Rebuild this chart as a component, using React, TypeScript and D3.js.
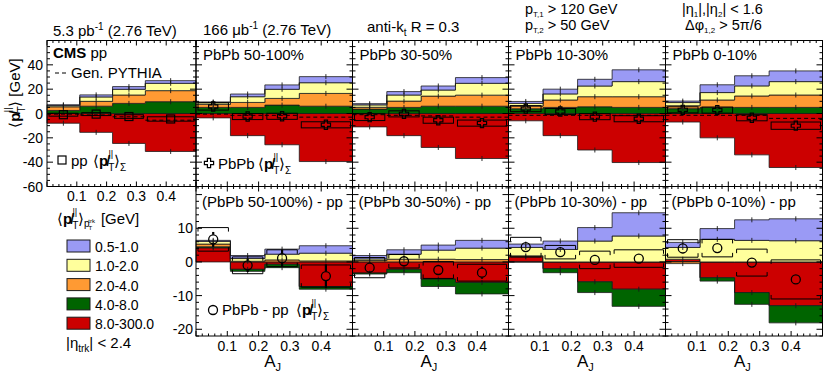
import React from "react";
import * as d3 from "d3";

// A_J bins shared by every panel
const binEdges = [0, 0.11, 0.22, 0.33, 0.5];
const ajTicks = [0.1, 0.2, 0.3, 0.4];
const topYTicks = [40, 20, 0, -20, -40, -60];
const diffYTicks = [10, 0, -10, -20];

const ptClasses = ["0.5-1.0", "1.0-2.0", "2.0-4.0", "4.0-8.0", "8.0-300.0"];
const legendKeys = ["blue", "yellow", "orange", "green", "red"];
const stackKeys = ["red", "green", "orange", "yellow", "blue"];
const colors: Record<string, string> = {
  blue: "#9a9af5",
  yellow: "#ffff9c",
  orange: "#ff9a33",
  green: "#006400",
  red: "#cc0000",
};

// top row: pp, PbPb 50-100%, 30-50%, 10-30%, 0-10%
const topTitles = ["pp", "PbPb 50-100%", "PbPb 30-50%", "PbPb 10-30%", "PbPb 0-10%"];
const topBlue = [[0.7, 1.7, 2.2, 2.2], [0.5, 2.2, 3.6, 5], [1, 2.8, 3.3, 4.7], [1.6, 3.9, 5.5, 9.7], [1.2, 6.4, 8.3, 8.8]];
const topYellow = [[1, 3.6, 4.7, 6], [1.5, 4.7, 7.5, 8.8], [2, 5, 5, 9.7], [2.2, 5, 8.8, 12.4], [2.6, 6.1, 8.3, 11]];
const topOrange = [[3, 4, 6.9, 9.1], [2.5, 4.1, 5.5, 10.5], [1.5, 5.2, 8.3, 9.1], [2.2, 6.1, 8.3, 8.8], [2.4, 6.1, 9.4, 10.2]];
const topGreen = [[2.5, 6, 8.3, 9.7], [5, 5, 6.9, 6], [3.6, 5, 6, 6], [3.9, 5, 5.5, 5], [4, 5, 5, 5]];
const topRed = [[-8, -15.5, -24.6, -31.2], [-3.6, -18.2, -25.7, -39.5], [-11, -18.2, -27.9, -37], [-6, -18.2, -30, -40.3], [-7, -20, -34, -44.4]];
const topSum = [[-1, -0.5, -2.5, -4.5], [5.8, -2.5, -2.3, -9.3], [-3, -0.3, -5.5, -7.9], [4, 1.6, -2.6, -4.3], [3, 2.8, -3.5, -10]];
const topStat = [[0.8, 0.8, 1, 1.2], [1.5, 1.2, 1.2, 1.5], [1.2, 1, 1, 1.2], [1, 1, 1, 1], [1, 1, 1, 1.2]];
const topSys = [[1.2, 1.2, 1.5, 1.8], [3, 2.5, 2.5, 2.5], [2.8, 2.5, 2.5, 2.5], [2.5, 2.5, 2.5, 2.5], [2.5, 2.5, 2.5, 3]];
const topGen = [[-0.5, -1.2, -2.7, -5.5], [-0.5, -1.5, -1.5, -3], [-1, -1.5, -2, -3], [-1.5, -1.5, -1.5, -1.5], [-1.5, -1.5, -1.5, -4]];

// bottom row: (PbPb - pp) for 50-100%, 30-50%, 10-30%, 0-10%
const diffTitles = ["(PbPb 50-100%) - pp", "(PbPb 30-50%) - pp", "(PbPb 10-30%) - pp", "(PbPb 0-10%) - pp"];
const diffBlue = [[0.3, 0.9, 1.5, 2.2], [1, 1.3, 1.5, 2.3], [1, 2.5, 4, 6.9], [1.5, 3.2, 6.1, 6.5]];
const diffYellow = [[0.8, 0.8, 1.7, 2.3], [0.5, 1.5, 2.7, 3.4], [2.5, 3.7, 6.2, 7.7], [3.5, 6.7, 6.4, 6.3]];
const diffOrange = [[0.8, 0.2, 0.6, 0.3], [0.4, 0.8, 0.8, 0.7], [0.3, 0, 0, 0], [-0.5, 0, 0, 0]];
const diffGreen = [[0.3, -0.6, -1, -0.8], [-0.3, -1, -2.2, -3.4], [0, -1.2, -3.2, -5.1], [0, -1, -3.5, -5.1]];
const diffRed = [[4.2, -2.2, -0.7, -7.3], [-3.3, -2.2, -5.1, -6.1], [1.5, -2, -5.9, -8.1], [0.8, -4.7, -9.1, -13]];
const diffSum = [[6.7, -1, 1.1, -4.2], [-1.7, 0.2, -2.4, -3.2], [4.4, 2.9, 0.6, 1], [4, 4.1, -0.2, -5.2]];
const diffStat = [[2.2, 2, 2.5, 3.5], [1.5, 1.5, 1.5, 1.8], [0.8, 0.8, 0.8, 0.8], [1.5, 0.8, 0.8, 1]];
const diffSys = [[3.5, 2.5, 2.5, 3.3], [3, 2, 2.5, 2.5], [2.9, 2, 2.6, 2.6], [2.6, 2.6, 4, 5.8]];

const FONT = "'Liberation Sans', Arial, Helvetica, sans-serif";
const PSLASH = "p\u0338";

const panelX = [[47, 196], [196, 352.5], [352.5, 508.5], [508.5, 665.5], [665.5, 822.5]];
const topY = d3.scaleLinear().domain([-60, 60]).range([186.5, 40.5]);
const diffY = d3.scaleLinear().domain([-22, 22.4]).range([336, 186.5]);

type Lin = d3.ScaleLinear<number, number>;

function Frame({ x, y, minor, major }: { x: Lin; y: Lin; minor: number; major: number }) {
  const [x0, x1] = x.range();
  const [yb, yt] = y.range();
  const [d0, d1] = y.domain();
  const xt = d3.range(0, 0.5001, 0.02);
  const yv = d3.range(Math.ceil(d0 / minor) * minor, d1 + 1e-9, minor);
  const isMaj = (v: number, s: number) => Math.abs(v / s - Math.round(v / s)) < 1e-6;
  return (
    <g stroke="#000" strokeWidth={1}>
      {xt.map((t, i) => {
        const l = isMaj(t, 0.1) ? 5 : 2.5;
        const px = x(t);
        return (
          <g key={"x" + i}>
            <line x1={px} x2={px} y1={yb} y2={yb - l} />
            <line x1={px} x2={px} y1={yt} y2={yt + l} />
          </g>
        );
      })}
      {yv.map((v, i) => {
        const l = isMaj(v, major) ? 6 : 3;
        const py = y(v);
        return (
          <g key={"y" + i}>
            <line x1={x0} x2={x0 + l} y1={py} y2={py} />
            <line x1={x1} x2={x1 - l} y1={py} y2={py} />
          </g>
        );
      })}
      <rect x={x0} y={yt} width={x1 - x0} height={yb - yt} fill="none" />
    </g>
  );
}

function Stack({ x, y, parts }: { x: Lin; y: Lin; parts: Record<string, number[]> }) {
  const rows = binEdges.slice(0, -1).map((_, i) => {
    const r: Record<string, number> = {};
    stackKeys.forEach((k) => (r[k] = parts[k][i]));
    return r;
  });
  const series = d3.stack<Record<string, number>>().keys(stackKeys).offset(d3.stackOffsetDiverging)(rows);
  const area = d3
    .area<{ x: number; y0: number; y1: number }>()
    .x((p) => x(p.x))
    .y0((p) => y(p.y0))
    .y1((p) => y(p.y1));
  return (
    <g>
      {series.map((s) => {
        const pts = s.flatMap((d, i) => [
          { x: binEdges[i], y0: d[0], y1: d[1] },
          { x: binEdges[i + 1], y0: d[0], y1: d[1] },
        ]);
        return <path key={s.key} d={area(pts) || ""} fill={colors[s.key]} stroke="#1a1a1a" strokeWidth={0.8} />;
      })}
      {series.map((s) =>
        s.map((d, i) => {
          const v = parts[s.key][i];
          if (Math.abs(v) < 0.05) return null;
          const edge = v >= 0 ? d[1] : d[0];
          const cx = x((binEdges[i] + binEdges[i + 1]) / 2);
          return <line key={s.key + i} x1={cx} x2={cx} y1={y(edge) - 2.5} y2={y(edge) + 2.5} stroke="#1a1a1a" strokeWidth={0.9} />;
        })
      )}
    </g>
  );
}

function Marker({ kind, cx, cy }: { kind: string; cx: number; cy: number }) {
  if (kind === "square") return <rect x={cx - 4} y={cy - 4} width={8} height={8} fill="none" stroke="#000" strokeWidth={1.2} />;
  if (kind === "cross")
    return (
      <path
        transform={`translate(${cx},${cy})`}
        d="M-1.6,-4.6H1.6V-1.6H4.6V1.6H1.6V4.6H-1.6V1.6H-4.6V-1.6H-1.6Z"
        fill="none"
        stroke="#000"
        strokeWidth={1.2}
      />
    );
  return <circle cx={cx} cy={cy} r={4.5} fill="none" stroke="#000" strokeWidth={1.3} />;
}

function Points({ x, y, vals, stat, sys, kind, bracket, thick }: { x: Lin; y: Lin; vals: number[]; stat: number[]; sys: number[]; kind: string; bracket: boolean; thick: number }) {
  return (
    <g>
      {vals.map((v, i) => {
        const lo = x(binEdges[i]) + 2;
        const hi = x(binEdges[i + 1]) - 2;
        const cx = x((binEdges[i] + binEdges[i + 1]) / 2);
        const yt = y(v + sys[i]);
        const yb = y(v - sys[i]);
        const cy = y(v);
        return (
          <g key={i} fill="none" stroke="#000">
            {bracket ? (
              <g strokeWidth={1}>
                <path d={`M${lo},${yt + 4}V${yt}H${hi}V${yt + 4}`} />
                <path d={`M${lo},${yb - 4}V${yb}H${hi}V${yb - 4}`} />
              </g>
            ) : (
              <rect x={lo} y={yt} width={hi - lo} height={yb - yt} strokeWidth={1} />
            )}
            {y(v + stat[i]) < cy - 4.6 && <line x1={cx} x2={cx} y1={y(v + stat[i])} y2={cy - 4.6} strokeWidth={thick} />}
            {y(v - stat[i]) > cy + 4.6 && <line x1={cx} x2={cx} y1={cy + 4.6} y2={y(v - stat[i])} strokeWidth={thick} />}
            <Marker kind={kind} cx={cx} cy={cy} />
          </g>
        );
      })}
    </g>
  );
}

function PtMiss({ x, y, fs, sub, anchor }: { x: number; y: number; fs: number; sub?: React.ReactNode; anchor?: string }) {
  return (
    <text x={x} y={y} fontSize={fs} textAnchor={anchor || "start"}>
      <tspan>⟨</tspan>
      <tspan fontWeight="bold">{PSLASH}</tspan>
      <tspan fontSize={fs * 0.68} dy={fs * 0.32}>T</tspan>
      <tspan fontSize={fs * 0.62} dx={-fs * 0.4} dy={-fs * 0.9}>||</tspan>
      <tspan dx={fs * 0.05} dy={fs * 0.58}>⟩</tspan>
      {sub}
    </text>
  );
}

export default function App() {
  const xs = panelX.map((r) => d3.scaleLinear().domain([0, 0.5]).range(r));
  return (
    <svg width={830} height={374} style={{ position: "absolute", left: 0, top: 0, background: "#fff" }} fontFamily={FONT}>
      <rect width={830} height={374} fill="#fff" />
      {/* top row */}
      {topTitles.map((t, i) => {
        const x = xs[i];
        return (
          <g key={"top" + i}>
            <Stack x={x} y={topY} parts={{ blue: topBlue[i], yellow: topYellow[i], orange: topOrange[i], green: topGreen[i], red: topRed[i] }} />
            {topGen[i].map((g, j) => (
              <line key={j} x1={x(binEdges[j])} x2={x(binEdges[j + 1])} y1={topY(g)} y2={topY(g)} stroke="#000" strokeWidth={1} strokeDasharray="4,3" />
            ))}
            <Points x={x} y={topY} vals={topSum[i]} stat={topStat[i]} sys={topSys[i]} kind={i === 0 ? "square" : "cross"} bracket={false} thick={1.2} />
            <Frame x={x} y={topY} minor={5} major={20} />
            {i > 0 && (
              <text x={x(0) + 7} y={60} fontSize={15}>
                {t}
              </text>
            )}
          </g>
        );
      })}
      {/* bottom row */}
      {diffTitles.map((t, k) => {
        const x = xs[k + 1];
        return (
          <g key={"bot" + k}>
            <Stack x={x} y={diffY} parts={{ blue: diffBlue[k], yellow: diffYellow[k], orange: diffOrange[k], green: diffGreen[k], red: diffRed[k] }} />
            <Points x={x} y={diffY} vals={diffSum[k]} stat={diffStat[k]} sys={diffSys[k]} kind="circle" bracket={true} thick={2.2} />
            <Frame x={x} y={diffY} minor={2} major={10} />
            <text x={x(0) + 6} y={207} fontSize={15}>
              {t}
            </text>
            {ajTicks.map((v) => (
              <text key={v} x={x(v)} y={351} fontSize={14} textAnchor="middle">
                {v.toFixed(1)}
              </text>
            ))}
            <text x={x(0.245)} y={367} fontSize={17} textAnchor="middle">
              A<tspan fontSize={11} dy={4}>J</tspan>
            </text>
          </g>
        );
      })}
      {/* axis labels */}
      {topYTicks.map((v) => (
        <text key={v} x={43} y={topY(v) + 5} fontSize={14} textAnchor="end">
          {v}
        </text>
      ))}
      {diffYTicks.map((v) => (
        <text key={v} x={193} y={diffY(v) + 5} fontSize={14} textAnchor="end">
          {v}
        </text>
      ))}
      {ajTicks.map((v) => (
        <text key={v} x={xs[0](v)} y={201} fontSize={14} textAnchor="middle">
          {v.toFixed(1)}
        </text>
      ))}
      <g transform="translate(20,93) rotate(-90)">
        <PtMiss x={0} y={0} fs={15} anchor="middle" sub={<tspan dx={4}>[GeV]</tspan>} />
      </g>
      {/* pp panel texts */}
      <text x={53} y={58} fontSize={15}>
        <tspan fontWeight="bold">CMS</tspan> pp
      </text>
      <line x1={55} x2={68} y1={73} y2={73} stroke="#000" strokeDasharray="4,3" />
      <text x={71} y={78} fontSize={15}>Gen. PYTHIA</text>
      <Marker kind="square" cx={62} cy={160} />
      <text x={71} y={166} fontSize={15}>pp </text>
      <PtMiss x={93} y={166} fs={15} sub={<tspan fontSize={10} dy={4.5}>Σ</tspan>} />
      <Marker kind="cross" cx={209} cy={163} />
      <text x={218} y={169} fontSize={15}>PbPb </text>
      <PtMiss x={258} y={169} fs={15} sub={<tspan fontSize={10} dy={4.5}>Σ</tspan>} />
      <Marker kind="circle" cx={213} cy={310} />
      <text x={222} y={315} fontSize={15}>PbPb - pp</text>
      <PtMiss x={296} y={315} fs={15} sub={<tspan fontSize={10} dy={4.5}>Σ</tspan>} />
      {/* header */}
      <text x={53} y={36} fontSize={15}>
        5.3 pb<tspan fontSize={10} dy={-6}>-1</tspan>
        <tspan dy={6}> (2.76 TeV)</tspan>
      </text>
      <text x={203} y={35} fontSize={15}>
        166 μb<tspan fontSize={10} dy={-6}>-1</tspan>
        <tspan dy={6}> (2.76 TeV)</tspan>
      </text>
      <text x={367} y={32} fontSize={15}>
        anti-k<tspan fontSize={10} dy={4}>t</tspan>
        <tspan dy={-4}> R = 0.3</tspan>
      </text>
      <text x={525} y={14} fontSize={14.5}>
        p<tspan fontSize={8} dy={2.5}>T,1</tspan>
        <tspan dy={-2.5}> &gt; 120 GeV</tspan>
      </text>
      <text x={525} y={30} fontSize={14.5}>
        p<tspan fontSize={8} dy={2.5}>T,2</tspan>
        <tspan dy={-2.5}> &gt; 50 GeV</tspan>
      </text>
      <text x={682} y={14} fontSize={14.5}>
        |η<tspan fontSize={8} dy={2.5}>1</tspan>
        <tspan dy={-2.5}>|,|η</tspan>
        <tspan fontSize={8} dy={2.5}>2</tspan>
        <tspan dy={-2.5}>| &lt; 1.6</tspan>
      </text>
      <text x={685} y={30} fontSize={14.5}>
        Δφ<tspan fontSize={8} dy={2.5}>1,2</tspan>
        <tspan dy={-2.5}> &gt; 5π/6</tspan>
      </text>
      {/* legend */}
      <PtMiss
        x={57}
        y={224}
        fs={15}
        sub={
          <>
            <tspan fontSize={10} dy={3}>p</tspan>
            <tspan fontSize={6} dx={-1} dy={3}>T</tspan>
            <tspan fontSize={6} dx={-4} dy={-7}>trk</tspan>
            <tspan dx={6} dy={1}>[GeV]</tspan>
          </>
        }
      />
      {legendKeys.map((k, i) => (
        <g key={k}>
          <rect x={67} y={240 + i * 19.3} width={23} height={12} fill={colors[k]} stroke="#1a1a1a" strokeWidth={1} />
          <text x={95} y={252 + i * 19.3} fontSize={14}>
            {ptClasses[i]}
          </text>
        </g>
      ))}
      <text x={66} y={348} fontSize={15}>
        |η<tspan fontSize={10} dy={4}>trk</tspan>
        <tspan dy={-4}>| &lt; 2.4</tspan>
      </text>
    </svg>
  );
}
